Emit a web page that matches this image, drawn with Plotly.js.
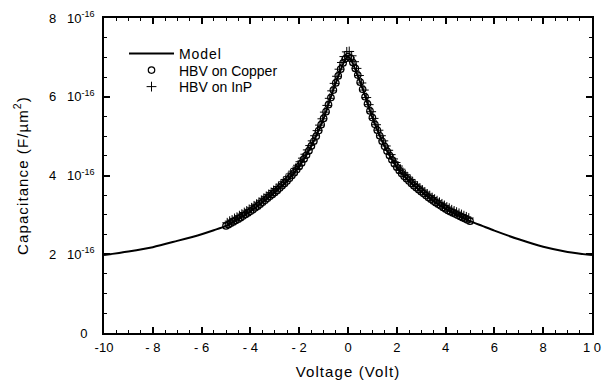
<!DOCTYPE html>
<html>
<head>
<meta charset="utf-8">
<script src="https://cdn.plot.ly/plotly-3.0.1.min.js"></script>
<style>
  html, body { margin: 0; padding: 0; background: #fff; }
  #chart { width: 610px; height: 392px; }
  .legendtext { letter-spacing: 0.9px; }
  .xtitle, .ytitle { letter-spacing: 1.1px; }
</style>
</head>
<body>
<div id="chart"></div>
<script>
// Capacitance values in units of 1e-16 F/um^2
const modelV = [-10, -9, -8, -7, -6, -5.5, -5, -4.5, -4, -3.5, -3, -2.5, -2, -1.5, -1, -0.5, 0,
                0.5, 1, 1.5, 2, 2.5, 3, 3.5, 4, 4.5, 5, 5.5, 6, 7, 8, 9, 10];
const modelC = [1.98, 2.07, 2.18, 2.34, 2.51, 2.61, 2.72, 2.89, 3.09, 3.32, 3.57, 3.86, 4.23, 4.75, 5.45, 6.35, 7.02,
                6.37, 5.47, 4.74, 4.21, 3.86, 3.59, 3.35, 3.15, 2.99, 2.84, 2.72, 2.60, 2.38, 2.19, 2.06, 1.98];

const copperV = [-5.0, -4.9, -4.8, -4.7, -4.6, -4.5, -4.4, -4.3, -4.2, -4.1,
                 -4.0, -3.9, -3.8, -3.7, -3.6, -3.5, -3.4, -3.3, -3.2, -3.1,
                 -3.0, -2.9, -2.8, -2.7, -2.6, -2.5, -2.4, -2.3, -2.2, -2.1,
                 -2.0, -1.9, -1.8, -1.7, -1.6, -1.5, -1.4, -1.3, -1.2, -1.1,
                 -1.0, -0.9, -0.8, -0.7, -0.6, -0.5, -0.4, -0.3, -0.2, -0.1,
                 0.0, 0.1, 0.2, 0.3, 0.4, 0.5, 0.6, 0.7, 0.8, 0.9,
                 1.0, 1.1, 1.2, 1.3, 1.4, 1.5, 1.6, 1.7, 1.8, 1.9,
                 2.0, 2.1, 2.2, 2.3, 2.4, 2.5, 2.6, 2.7, 2.8, 2.9,
                 3.0, 3.1, 3.2, 3.3, 3.4, 3.5, 3.6, 3.7, 3.8, 3.9,
                 4.0, 4.1, 4.2, 4.3, 4.4, 4.5, 4.6, 4.7, 4.8, 4.9, 5.0];
const copperC = [2.72, 2.75, 2.79, 2.82, 2.86, 2.89, 2.93, 2.97, 3.01, 3.05,
                 3.09, 3.13, 3.18, 3.22, 3.27, 3.32, 3.37, 3.42, 3.47, 3.52,
                 3.57, 3.62, 3.68, 3.74, 3.80, 3.86, 3.93, 4.00, 4.07, 4.15,
                 4.23, 4.32, 4.42, 4.52, 4.63, 4.75, 4.87, 5.00, 5.14, 5.29,
                 5.45, 5.62, 5.80, 5.98, 6.17, 6.35, 6.53, 6.70, 6.86, 6.97,
                 7.02, 6.98, 6.87, 6.72, 6.55, 6.37, 6.19, 6.00, 5.82, 5.64,
                 5.47, 5.30, 5.15, 5.01, 4.87, 4.74, 4.62, 4.51, 4.40, 4.30,
                 4.21, 4.13, 4.05, 3.98, 3.92, 3.86, 3.80, 3.74, 3.69, 3.64,
                 3.59, 3.54, 3.49, 3.44, 3.40, 3.35, 3.31, 3.27, 3.23, 3.19,
                 3.15, 3.11, 3.08, 3.05, 3.02, 2.99, 2.96, 2.93, 2.90, 2.87, 2.84];

const inpV = [-4.95, -4.85, -4.75, -4.65, -4.55, -4.45, -4.35, -4.25, -4.15, -4.05,
              -3.95, -3.85, -3.75, -3.65, -3.55, -3.45, -3.35, -3.25, -3.15, -3.05,
              -2.95, -2.85, -2.75, -2.65, -2.55, -2.45, -2.35, -2.25, -2.15, -2.05,
              -1.95, -1.85, -1.75, -1.65, -1.55, -1.45, -1.35, -1.25, -1.15, -1.05,
              -0.95, -0.85, -0.75, -0.65, -0.55, -0.45, -0.35, -0.25, -0.15, -0.05,
              0.05, 0.15, 0.25, 0.35, 0.45, 0.55, 0.65, 0.75, 0.85, 0.95,
              1.05, 1.15, 1.25, 1.35, 1.45, 1.55, 1.65, 1.75, 1.85, 1.95,
              2.05, 2.15, 2.25, 2.35, 2.45, 2.55, 2.65, 2.75, 2.85, 2.95,
              3.05, 3.15, 3.25, 3.35, 3.45, 3.55, 3.65, 3.75, 3.85, 3.95,
              4.05, 4.15, 4.25, 4.35, 4.45, 4.55, 4.65, 4.75, 4.85, 4.95];
const inpC = [2.80, 2.84, 2.87, 2.91, 2.94, 2.98, 3.02, 3.06, 3.10, 3.14,
              3.18, 3.23, 3.27, 3.32, 3.37, 3.42, 3.47, 3.52, 3.57, 3.62,
              3.67, 3.72, 3.78, 3.84, 3.90, 3.97, 4.04, 4.11, 4.18, 4.26,
              4.35, 4.44, 4.54, 4.65, 4.76, 4.88, 5.01, 5.14, 5.28, 5.44,
              5.61, 5.78, 5.96, 6.15, 6.34, 6.52, 6.70, 6.87, 7.02, 7.14,
              7.15, 7.04, 6.89, 6.72, 6.54, 6.35, 6.17, 5.98, 5.80, 5.62,
              5.45, 5.29, 5.15, 5.01, 4.88, 4.75, 4.64, 4.53, 4.42, 4.33,
              4.24, 4.16, 4.08, 4.02, 3.96, 3.90, 3.84, 3.78, 3.73, 3.68,
              3.63, 3.58, 3.53, 3.49, 3.44, 3.40, 3.36, 3.32, 3.28, 3.24,
              3.20, 3.17, 3.13, 3.10, 3.07, 3.04, 3.01, 2.98, 2.95, 2.92];

const xTickVals = [-10, -8, -6, -4, -2, 0, 2, 4, 6, 8, 10];
const xTickText = ['-10', '- 8', '- 6', '- 4', '- 2', '0', '2', '4', '6', '8', '1 0'];
const yTickVals = [0, 2, 4, 6, 8];
const yTickText = ['0\u00a0\u00a0', '2\u00a0\u00a0 10<sup>-16</sup>', '4\u00a0\u00a0 10<sup>-16</sup>',
                   '6\u00a0\u00a0 10<sup>-16</sup>', '8\u00a0\u00a0 10<sup>-16</sup>'];

const FONT = 'Liberation Sans, Arial, Helvetica, sans-serif';

const traces = [
  { x: modelV, y: modelC, name: 'Model', type: 'scatter', mode: 'lines', legend: 'legend',
    line: { color: '#000', width: 2, shape: 'spline', smoothing: 0.8 } },
  { x: copperV, y: copperC, name: 'HBV on Copper', type: 'scatter', mode: 'markers', legend: 'legend2',
    marker: { symbol: 'circle-open', size: 6.5, color: '#000', line: { width: 1.2, color: '#000' } } },
  { x: inpV, y: inpC, name: 'HBV on InP', type: 'scatter', mode: 'markers', legend: 'legend3',
    marker: { symbol: 'cross-thin-open', size: 7, color: '#000', line: { width: 1, color: '#000' } } }
];

const legendCommon = { xanchor: 'left', yanchor: 'top', bgcolor: 'rgba(0,0,0,0)',
  font: { family: FONT, size: 14, color: '#000' }, itemwidth: 45 };

const axisCommon = {
  showgrid: false, zeroline: false, showline: true, linecolor: '#000', linewidth: 1.5,
  mirror: 'allticks', ticks: 'inside', ticklen: 6, tickwidth: 1.5, tickcolor: '#000',
  tickfont: { family: FONT, size: 13, color: '#000' }
};

const layout = {
  width: 610, height: 392,
  margin: { l: 104, r: 18, t: 18, b: 59 },
  paper_bgcolor: '#fff', plot_bgcolor: '#fff',
  font: { family: FONT, color: '#000' },
  showlegend: true,
  legend: Object.assign({}, legendCommon, { x: 0.041, y: 0.9365 }),
  legend2: Object.assign({}, legendCommon, { x: 0.041, y: 0.8841 }),
  legend3: Object.assign({}, legendCommon, { x: 0.041, y: 0.8317 }),
  xaxis: Object.assign({}, axisCommon, {
    range: [-10, 10], tickmode: 'array', tickvals: xTickVals, ticktext: xTickText, ticklabelstandoff: 2,
    minor: { tickmode: 'linear', tick0: 0, dtick: 0.5, ticks: 'inside', ticklen: 3.5, tickcolor: '#000', tickwidth: 1.2 },
    title: { text: 'Voltage (Volt)', font: { family: FONT, size: 15, color: '#000' }, standoff: 12 }
  }),
  yaxis: Object.assign({}, axisCommon, {
    range: [0, 8], tickmode: 'array', tickvals: yTickVals, ticktext: yTickText, ticklabelstandoff: 5,
    minor: { tickmode: 'linear', tick0: 0, dtick: 0.5, ticks: 'inside', ticklen: 3.5, tickcolor: '#000', tickwidth: 1.2 },
    title: { text: 'Capacitance (F/\u00b5m<sup>2</sup>)', font: { family: FONT, size: 15, color: '#000' }, standoff: 17 }
  })
};

Plotly.newPlot('chart', traces, layout, { displayModeBar: false });
</script>
</body>
</html>
